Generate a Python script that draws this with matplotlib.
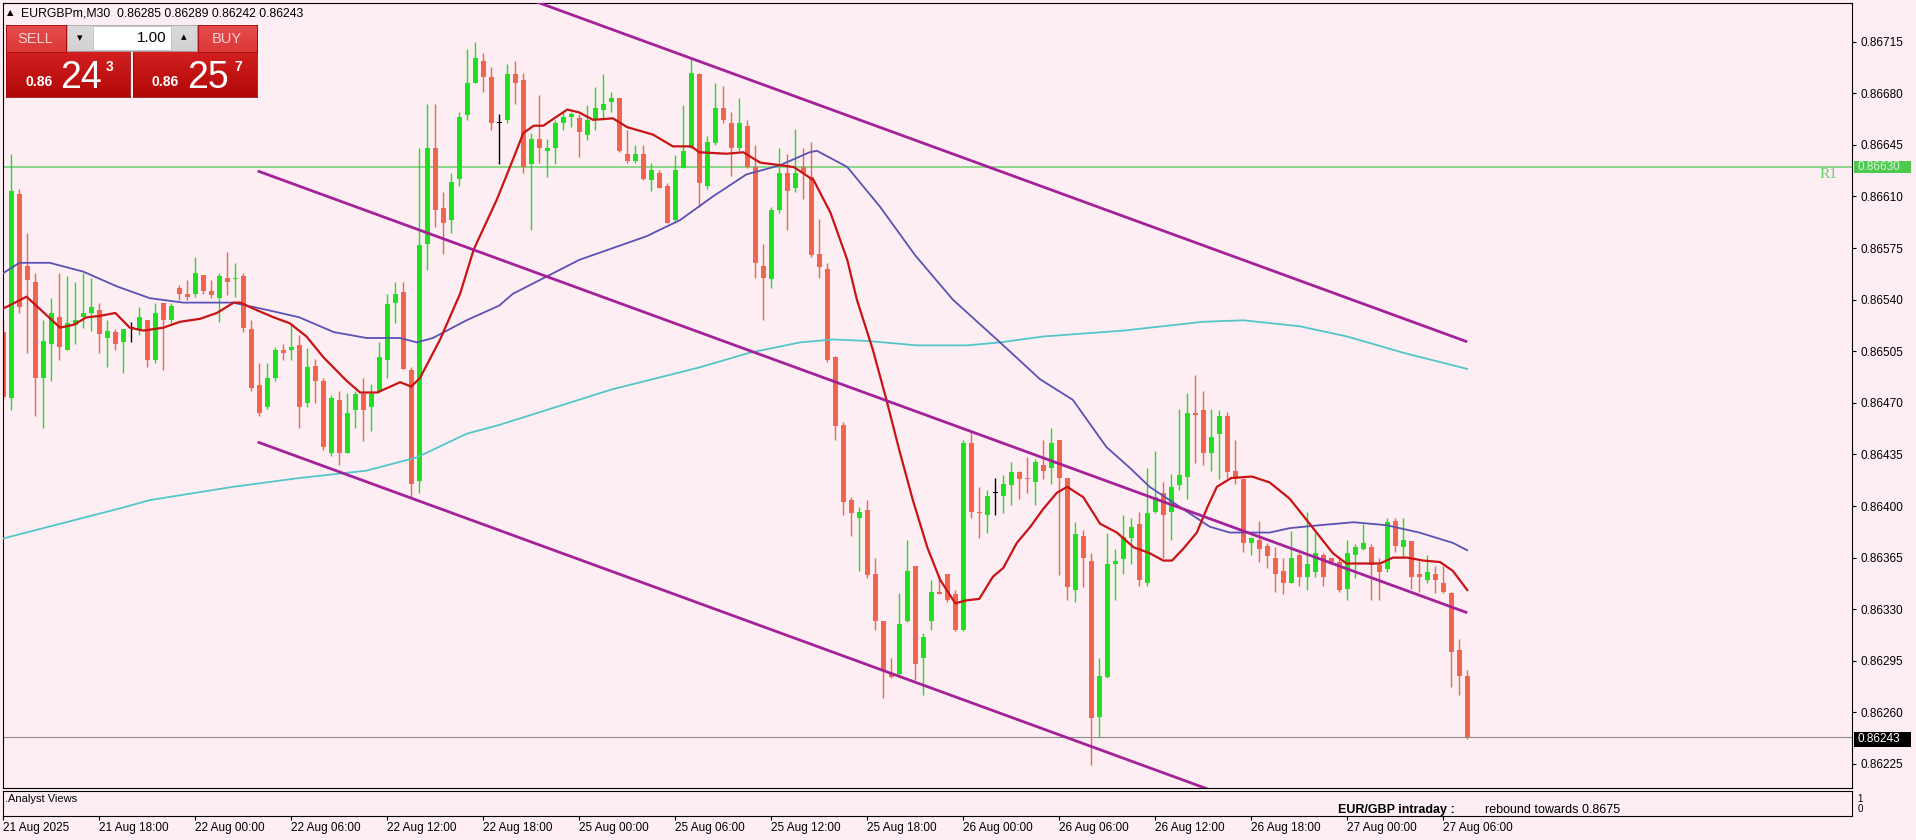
import numpy as np
import matplotlib
matplotlib.use('Agg')
import matplotlib.pyplot as plt
from matplotlib.patches import Rectangle

plt.rcParams['font.family'] = ['Liberation Sans', 'DejaVu Sans']

# EURGBPm M30 candles, bar 0 = 21 Aug 2025 12:00
opens = [0.86518, 0.86473, 0.86612, 0.86563, 0.86552, 0.86487, 0.86510, 0.86528, 0.86506, 0.86523,
         0.86528, 0.86531, 0.86533, 0.86514, 0.86518, 0.86511, 0.86521, 0.86520, 0.86526, 0.86499,
         0.86538, 0.86526, 0.86548, 0.86544, 0.86544, 0.86557, 0.86546, 0.86541, 0.86555, 0.86554,
         0.86556, 0.86520, 0.86482, 0.86467, 0.86487, 0.86506, 0.86506, 0.86509, 0.86470, 0.86495,
         0.86485, 0.86436, 0.86472, 0.86436, 0.86465, 0.86476, 0.86467, 0.86478, 0.86499, 0.86538,
         0.86545, 0.86492, 0.86417, 0.86578, 0.86643, 0.86602, 0.86594, 0.86622, 0.86665, 0.86687,
         0.86702, 0.86691, 0.86660, 0.86662, 0.86693, 0.86689, 0.86632, 0.86649, 0.86641, 0.86643,
         0.86660, 0.86664, 0.86663, 0.86652, 0.86662, 0.86669, 0.86674, 0.86677, 0.86639, 0.86634,
         0.86639, 0.86621, 0.86626, 0.86617, 0.86594, 0.86629, 0.86643, 0.86693, 0.86617, 0.86646,
         0.86670, 0.86660, 0.86643, 0.86658, 0.86630, 0.86563, 0.86554, 0.86601, 0.86626, 0.86616,
         0.86630, 0.86623, 0.86571, 0.86561, 0.86501, 0.86455, 0.86404, 0.86392, 0.86397, 0.86354,
         0.86322, 0.86286, 0.86286, 0.86322, 0.86359, 0.86297, 0.86322, 0.86342, 0.86354, 0.86340,
         0.86316, 0.86443, 0.86396, 0.86394, 0.86409, 0.86407, 0.86414, 0.86423, 0.86419, 0.86416,
         0.86428, 0.86426, 0.86445, 0.86419, 0.86343, 0.86380, 0.86363, 0.86257, 0.86284, 0.86361,
         0.86364, 0.86378, 0.86388, 0.86348, 0.86396, 0.86409, 0.86396, 0.86414, 0.86420, 0.86463,
         0.86465, 0.86436, 0.86449, 0.86461, 0.86424, 0.86418, 0.86375, 0.86377, 0.86373, 0.86365,
         0.86356, 0.86348, 0.86367, 0.86352, 0.86355, 0.86367, 0.86365, 0.86362, 0.86344, 0.86367,
         0.86371, 0.86372, 0.86360, 0.86357, 0.86390, 0.86372, 0.86376, 0.86354, 0.86350, 0.86354,
         0.86348, 0.86341, 0.86302, 0.86285]
highs = [0.86526, 0.86639, 0.86615, 0.86585, 0.86558, 0.86526, 0.86541, 0.86558, 0.86556, 0.86552,
         0.86558, 0.86555, 0.86538, 0.86526, 0.86520, 0.86520, 0.86525, 0.86535, 0.86526, 0.86538,
         0.86538, 0.86538, 0.86550, 0.86553, 0.86569, 0.86557, 0.86553, 0.86558, 0.86572, 0.86565,
         0.86558, 0.86526, 0.86497, 0.86497, 0.86508, 0.86510, 0.86524, 0.86516, 0.86507, 0.86500,
         0.86487, 0.86475, 0.86478, 0.86477, 0.86478, 0.86487, 0.86483, 0.86511, 0.86544, 0.86552,
         0.86552, 0.86494, 0.86643, 0.86673, 0.86673, 0.86613, 0.86626, 0.86667, 0.86710, 0.86715,
         0.86707, 0.86698, 0.86666, 0.86700, 0.86702, 0.86694, 0.86653, 0.86679, 0.86649, 0.86662,
         0.86667, 0.86667, 0.86666, 0.86672, 0.86684, 0.86693, 0.86681, 0.86677, 0.86655, 0.86645,
         0.86645, 0.86633, 0.86628, 0.86619, 0.86638, 0.86672, 0.86704, 0.86694, 0.86651, 0.86687,
         0.86685, 0.86667, 0.86677, 0.86662, 0.86645, 0.86578, 0.86603, 0.86643, 0.86639, 0.86656,
         0.86643, 0.86647, 0.86595, 0.86565, 0.86502, 0.86457, 0.86406, 0.86399, 0.86404, 0.86365,
         0.86322, 0.86297, 0.86341, 0.86377, 0.86359, 0.86314, 0.86350, 0.86353, 0.86354, 0.86343,
         0.86445, 0.86450, 0.86413, 0.86411, 0.86419, 0.86421, 0.86430, 0.86424, 0.86433, 0.86432,
         0.86445, 0.86453, 0.86445, 0.86419, 0.86389, 0.86384, 0.86368, 0.86297, 0.86382, 0.86371,
         0.86394, 0.86392, 0.86396, 0.86426, 0.86437, 0.86416, 0.86422, 0.86466, 0.86477, 0.86489,
         0.86478, 0.86466, 0.86465, 0.86464, 0.86445, 0.86419, 0.86379, 0.86390, 0.86375, 0.86372,
         0.86365, 0.86383, 0.86368, 0.86396, 0.86382, 0.86368, 0.86365, 0.86365, 0.86377, 0.86374,
         0.86388, 0.86374, 0.86365, 0.86392, 0.86392, 0.86392, 0.86376, 0.86363, 0.86367, 0.86359,
         0.86359, 0.86342, 0.86310, 0.86289]
lows = [0.86472, 0.86465, 0.86531, 0.86504, 0.86461, 0.86453, 0.86485, 0.86499, 0.86506, 0.86510,
        0.86521, 0.86519, 0.86504, 0.86494, 0.86506, 0.86490, 0.86511, 0.86516, 0.86494, 0.86497,
        0.86492, 0.86524, 0.86540, 0.86540, 0.86542, 0.86544, 0.86541, 0.86525, 0.86543, 0.86542,
        0.86518, 0.86478, 0.86461, 0.86466, 0.86485, 0.86499, 0.86499, 0.86453, 0.86467, 0.86470,
        0.86438, 0.86434, 0.86428, 0.86436, 0.86453, 0.86444, 0.86451, 0.86477, 0.86487, 0.86524,
        0.86493, 0.86406, 0.86409, 0.86560, 0.86589, 0.86571, 0.86585, 0.86617, 0.86662, 0.86687,
        0.86681, 0.86655, 0.86632, 0.86660, 0.86673, 0.86626, 0.86587, 0.86633, 0.86623, 0.86632,
        0.86655, 0.86657, 0.86637, 0.86648, 0.86655, 0.86662, 0.86667, 0.86640, 0.86633, 0.86633,
        0.86621, 0.86614, 0.86616, 0.86592, 0.86592, 0.86629, 0.86643, 0.86603, 0.86615, 0.86645,
        0.86660, 0.86624, 0.86641, 0.86629, 0.86555, 0.86526, 0.86548, 0.86599, 0.86587, 0.86613,
        0.86608, 0.86569, 0.86555, 0.86498, 0.86445, 0.86394, 0.86380, 0.86356, 0.86351, 0.86316,
        0.86270, 0.86283, 0.86285, 0.86321, 0.86282, 0.86272, 0.86316, 0.86340, 0.86335, 0.86315,
        0.86315, 0.86392, 0.86378, 0.86382, 0.86394, 0.86395, 0.86401, 0.86405, 0.86409, 0.86401,
        0.86418, 0.86415, 0.86353, 0.86336, 0.86335, 0.86345, 0.86224, 0.86243, 0.86283, 0.86336,
        0.86354, 0.86361, 0.86346, 0.86346, 0.86395, 0.86365, 0.86377, 0.86411, 0.86405, 0.86429,
        0.86428, 0.86424, 0.86418, 0.86419, 0.86415, 0.86369, 0.86367, 0.86362, 0.86358, 0.86342,
        0.86340, 0.86348, 0.86346, 0.86343, 0.86352, 0.86346, 0.86361, 0.86342, 0.86336, 0.86351,
        0.86370, 0.86336, 0.86336, 0.86355, 0.86369, 0.86365, 0.86344, 0.86342, 0.86348, 0.86341,
        0.86341, 0.86277, 0.86272, 0.86242]
closes = [0.86474, 0.86614, 0.86535, 0.86553, 0.86487, 0.86512, 0.86531, 0.86508, 0.86524, 0.86526,
          0.86531, 0.86535, 0.86517, 0.86519, 0.86510, 0.86520, 0.86521, 0.86528, 0.86499, 0.86531,
          0.86526, 0.86536, 0.86544, 0.86542, 0.86558, 0.86546, 0.86543, 0.86556, 0.86552, 0.86555,
          0.86521, 0.86480, 0.86463, 0.86487, 0.86506, 0.86504, 0.86508, 0.86467, 0.86494, 0.86485,
          0.86440, 0.86473, 0.86436, 0.86463, 0.86476, 0.86465, 0.86476, 0.86501, 0.86537, 0.86544,
          0.86493, 0.86415, 0.86577, 0.86643, 0.86601, 0.86592, 0.86620, 0.86664, 0.86687, 0.86704,
          0.86691, 0.86660, 0.86660, 0.86693, 0.86687, 0.86630, 0.86649, 0.86643, 0.86643, 0.86660,
          0.86664, 0.86666, 0.86654, 0.86662, 0.86670, 0.86673, 0.86677, 0.86641, 0.86634, 0.86639,
          0.86622, 0.86628, 0.86616, 0.86592, 0.86628, 0.86641, 0.86694, 0.86619, 0.86647, 0.86670,
          0.86662, 0.86643, 0.86660, 0.86630, 0.86565, 0.86555, 0.86601, 0.86626, 0.86614, 0.86626,
          0.86626, 0.86570, 0.86562, 0.86499, 0.86454, 0.86403, 0.86395, 0.86396, 0.86353, 0.86322,
          0.86288, 0.86284, 0.86320, 0.86356, 0.86293, 0.86311, 0.86342, 0.86340, 0.86336, 0.86316,
          0.86443, 0.86396, 0.86395, 0.86407, 0.86409, 0.86415, 0.86423, 0.86418, 0.86418, 0.86430,
          0.86424, 0.86443, 0.86419, 0.86345, 0.86381, 0.86365, 0.86256, 0.86285, 0.86361, 0.86363,
          0.86379, 0.86386, 0.86350, 0.86395, 0.86406, 0.86394, 0.86413, 0.86421, 0.86463, 0.86462,
          0.86436, 0.86447, 0.86461, 0.86423, 0.86418, 0.86375, 0.86378, 0.86371, 0.86366, 0.86354,
          0.86348, 0.86365, 0.86352, 0.86361, 0.86368, 0.86352, 0.86362, 0.86343, 0.86368, 0.86372,
          0.86375, 0.86360, 0.86355, 0.86389, 0.86373, 0.86377, 0.86352, 0.86352, 0.86355, 0.86350,
          0.86342, 0.86301, 0.86285, 0.86243]

# moving averages (bar position, price)
red_ma_x = [0, 2.9, 7.1, 8.8, 10.4, 12.1, 14, 15.8, 17.5, 20, 22.1, 24.6, 26.7, 28.8, 29.6, 31.2,
            33.8, 35.8, 37.9, 40, 42.9, 44.6, 46.7, 48.8, 49.6, 51, 52.1, 54.6, 57.1, 58.8, 61.7,
            63.7, 65, 66.3, 67.5, 70.5, 72, 73.7, 76.2, 78, 81.2, 83.7, 86, 87, 90.4, 92.5, 94.6,
            98.8, 101.3, 103.4, 105.5, 106.7, 108.7, 110.4, 112, 113.7, 115.5, 117.1, 119, 120.4,
            122, 123.7, 125, 126.7, 128.4, 130, 131.7, 133, 135, 137.1, 139.2, 141.3, 143.3, 145,
            146.1, 147.5, 149.2, 150.5, 151.7, 153.5, 156.1, 158.3, 160.8, 163, 164.6, 166.2,
            167.9, 170, 172.1, 173.7, 175.5, 177.5, 179.6, 181.2, 183]
red_ma = [0.86534, 0.86542, 0.86521, 0.86523, 0.86528, 0.86529, 0.86531, 0.86521, 0.86519, 0.86521,
          0.86525, 0.86527, 0.86531, 0.86538, 0.86538, 0.86534, 0.86528, 0.86524, 0.86515, 0.86501,
          0.86485, 0.86477, 0.86477, 0.86482, 0.86484, 0.86481, 0.86487, 0.86513, 0.86544, 0.86574,
          0.86608, 0.86635, 0.86653, 0.86658, 0.86658, 0.86669, 0.86667, 0.86662, 0.86663, 0.86657,
          0.86652, 0.86644, 0.86644, 0.86640, 0.86639, 0.86640, 0.86633, 0.86630, 0.86621, 0.86599,
          0.86567, 0.86540, 0.86506, 0.86472, 0.86438, 0.86404, 0.86372, 0.86350, 0.86334, 0.86336,
          0.86337, 0.86352, 0.86358, 0.86375, 0.86386, 0.86398, 0.86409, 0.86413, 0.86406, 0.86388,
          0.86382, 0.86372, 0.86368, 0.86363, 0.86363, 0.86371, 0.86382, 0.86399, 0.86413, 0.86419,
          0.86420, 0.86416, 0.86405, 0.86390, 0.86379, 0.86368, 0.86361, 0.86361, 0.86361, 0.86365,
          0.86365, 0.86363, 0.86362, 0.86356, 0.86343]
blue_ma_x = [0, 2, 5.8, 10, 14.2, 18.3, 22.5, 28.7, 33, 37, 41.3, 45.4, 49.6, 51.7, 53.7, 57.9, 62,
             63.7, 72, 80.4, 84.6, 88.7, 92.9, 97, 100.8, 101.7, 105.5, 109.6, 114, 118.7, 124.6,
             129.6, 133.7, 135.8, 137.9, 140.8, 143.3, 145.8, 148.3, 150.8, 153.3, 155, 158.3,
             160.8, 164.6, 168.8, 172.9, 177, 181.2, 183]
blue_ma = [0.86558, 0.86565, 0.86565, 0.86559, 0.86549, 0.86541, 0.86538, 0.86538, 0.86533, 0.86528,
           0.86518, 0.86514, 0.86514, 0.86511, 0.86514, 0.86526, 0.86536, 0.86544, 0.86567, 0.86583,
           0.86594, 0.86610, 0.86625, 0.86631, 0.86640, 0.86641, 0.86630, 0.86603, 0.86570, 0.86540,
           0.86511, 0.86486, 0.86472, 0.86456, 0.86440, 0.86426, 0.86413, 0.86404, 0.86395, 0.86386,
           0.86382, 0.86382, 0.86382, 0.86385, 0.86387, 0.86389, 0.86387, 0.86382, 0.86375, 0.86370]
cyan_ma_x = [0, 15, 18.3, 28.7, 37, 45.4, 51.7, 57.9, 62, 76, 87, 93.3, 99.6, 103.7, 108, 114.2,
             120.5, 124.6, 130, 140, 150, 155, 162, 168, 175, 183]
cyan_ma = [0.86378, 0.86399, 0.86404, 0.86413, 0.86419, 0.86424, 0.86433, 0.86449, 0.86455, 0.86479,
           0.86494, 0.86504, 0.86511, 0.86513, 0.86512, 0.86509, 0.86509, 0.86511, 0.86515, 0.86519,
           0.86525, 0.86526, 0.86522, 0.86515, 0.86504, 0.86493]

# regression channel end points
chan_x = [31.8, 183]
chan_upper = [0.868111, 0.865114]
chan_mid = [0.866273, 0.863276]
chan_lower = [0.864434, 0.861437]

r1_level = 0.86630
bid_price = 0.86243

y_ticks = [0.86225, 0.86260, 0.86295, 0.86330, 0.86365, 0.86400, 0.86435, 0.86470,
           0.86505, 0.86540, 0.86575, 0.86610, 0.86645, 0.86680, 0.86715]
x_tick_bars = [0, 12, 24, 36, 48, 60, 72, 84, 96, 108, 120, 132, 144, 156, 168, 180]
x_tick_labels = ['21 Aug 2025', '21 Aug 18:00', '22 Aug 00:00', '22 Aug 06:00', '22 Aug 12:00',
                 '22 Aug 18:00', '25 Aug 00:00', '25 Aug 06:00', '25 Aug 12:00', '25 Aug 18:00',
                 '26 Aug 00:00', '26 Aug 06:00', '26 Aug 12:00', '26 Aug 18:00', '27 Aug 00:00',
                 '27 Aug 06:00']

BG = '#fdeef3'
BULL = '#1fe01f'
BEAR = '#f1644f'

W, H = 1916, 840
fig = plt.figure(figsize=(W / 100, H / 100), dpi=100, facecolor=BG)


def fx(x):
    return x / W


def fy(y):
    return 1 - y / H


XL, XR = -0.08, 231.1

# main price chart
ax = fig.add_axes([fx(2.7), fy(788), fx(1852) - fx(2.7), fy(2.7) - fy(788)], facecolor=BG)
o = np.array(opens); h = np.array(highs); l = np.array(lows); c = np.array(closes)
idx = np.arange(len(c))
cols = np.where(c > o, BULL, np.where(c < o, BEAR, 'black'))
ax.vlines(idx, l, h, colors=cols, lw=1.0, zorder=2)
ax.bar(idx, np.maximum(np.abs(c - o), 0.000007), width=0.625, bottom=np.minimum(o, c),
       color=cols, linewidth=0, zorder=2)

ax.axhline(r1_level, color='#6ccf6c', lw=1.1, zorder=1)
ax.axhline(bid_price, color='#8c8c8c', lw=0.8, zorder=1)
ax.text(229.3, r1_level - 0.000005, 'R1', color='#6ccf6c', fontsize=11, ha='right', va='top',
        family='Liberation Serif')

ax.plot(cyan_ma_x, cyan_ma, color='#52c6c8', lw=1.3, zorder=3)
ax.plot(blue_ma_x, blue_ma, color='#5a52b4', lw=1.3, zorder=3)
ax.plot(red_ma_x, red_ma, color='#c81414', lw=1.6, zorder=3)
for band in (chan_upper, chan_mid, chan_lower):
    ax.plot(chan_x, band, color='#a3229a', lw=2.0, zorder=4, solid_capstyle='butt')

ax.set_xlim(XL, XR)
ax.set_ylim(0.862087, 0.8674146)
ax.set_xticks([])
ax.yaxis.tick_right()
ax.set_yticks(y_ticks)
ax.set_yticklabels(['%.5f' % v for v in y_ticks])
ax.tick_params(axis='y', direction='out', length=3, width=0.8, pad=3, labelsize=8.5)
for s in ax.spines.values():
    s.set_color('black')
    s.set_linewidth(0.8)

# price tags on the axis
fig.add_artist(Rectangle((fx(1854), fy(173)), 57 / W, 12 / H, transform=fig.transFigure,
                         facecolor='#4ec94e', edgecolor='none'))
fig.text(fx(1857), fy(167), '0.86630', color='#d8f7d8', fontsize=8.5, va='center')
fig.add_artist(Rectangle((fx(1854), fy(747)), 57 / W, 15 / H, transform=fig.transFigure,
                         facecolor='black', edgecolor='none'))
fig.text(fx(1857), fy(739.5), '0.86243', color='white', fontsize=8.5, va='center')

# indicator sub-window
ax2 = fig.add_axes([fx(2.7), fy(816), fx(1852) - fx(2.7), fy(791) - fy(816)], facecolor=BG)
ax2.set_xlim(XL, XR)
ax2.set_ylim(-0.8, 1.7)
ax2.set_xticks(x_tick_bars)
ax2.set_xticklabels(x_tick_labels)
for lbl in ax2.get_xticklabels():
    lbl.set_ha('left')
ax2.tick_params(axis='x', direction='out', length=3, width=0.8, pad=1.5, labelsize=8.5)
ax2.yaxis.tick_right()
ax2.set_yticks([0, 1])
ax2.set_yticklabels(['0', '1'])
ax2.tick_params(axis='y', length=0, pad=4, labelsize=7)
for s in ax2.spines.values():
    s.set_color('black')
    s.set_linewidth(0.8)
fig.text(fx(5), fy(799), '.Analyst Views', fontsize=8, va='center')
fig.text(fx(1338), fy(810), 'EUR/GBP intraday :', fontsize=9, weight='bold', va='center')
fig.text(fx(1485), fy(810), 'rebound towards 0.8675', fontsize=9, va='center')

# one-click trading panel
fig.text(fx(7), fy(13), '\u25b2', fontsize=6, va='center', family='DejaVu Sans')
fig.text(fx(21), fy(13), 'EURGBPm,M30  0.86285 0.86289 0.86242 0.86243', fontsize=8.8,
         va='center')


def red_box(x0, y0, x1, y1, top, bot):
    a = fig.add_axes([fx(x0), fy(y1), (x1 - x0) / W, (y1 - y0) / H])
    t = np.linspace(0, 1, 64)[:, None, None]
    img = np.array(top)[None, None, :] * (1 - t) + np.array(bot)[None, None, :] * t
    a.imshow(img, aspect='auto', extent=(0, 1, 0, 1))
    a.set_xticks([]); a.set_yticks([])
    for s in a.spines.values():
        s.set_color('#9a0a0a')
        s.set_linewidth(0.6)
    return a


red_box(6, 25, 130, 97, (0.90, 0.18, 0.18), (0.70, 0.03, 0.03))
red_box(133, 25, 257, 97, (0.90, 0.18, 0.18), (0.70, 0.03, 0.03))
red_box(6, 25, 66, 52, (0.90, 0.30, 0.30), (0.86, 0.22, 0.22))
red_box(198, 25, 257, 52, (0.90, 0.30, 0.30), (0.86, 0.22, 0.22))
lot = red_box(67, 25, 197, 51, (0.86, 0.86, 0.86), (0.82, 0.82, 0.82))
for s in lot.spines.values():
    s.set_color('#a8a8a8')
fig.add_artist(Rectangle((fx(93), fy(50)), 78 / W, 24 / H, transform=fig.transFigure,
                         facecolor='white', edgecolor='#c0c0c0', lw=0.6))
fig.text(fx(80), fy(38), '\u25be', fontsize=8, ha='center', va='center', family='DejaVu Sans')
fig.text(fx(184), fy(37), '\u25b4', fontsize=8, ha='center', va='center', family='DejaVu Sans')
fig.text(fx(166), fy(38), '1.00', fontsize=11, ha='right', va='center')
fig.text(fx(35), fy(39), 'SELL', fontsize=10.5, ha='center', va='center', color='#fbd2d2')
fig.text(fx(227), fy(39), 'BUY', fontsize=10.5, ha='center', va='center', color='#fbd2d2')

fig.text(fx(25), fy(82), '0.86', fontsize=10, weight='bold', color='white', va='center')
fig.text(fx(60), fy(88), '24', fontsize=27, color='white', va='baseline')
fig.text(fx(106), fy(67), '3', fontsize=10, weight='bold', color='white', va='center')
fig.text(fx(151), fy(82), '0.86', fontsize=10, weight='bold', color='white', va='center')
fig.text(fx(187), fy(88), '25', fontsize=27, color='white', va='baseline')
fig.text(fx(234), fy(67), '7', fontsize=10, weight='bold', color='white', va='center')

fig.savefig('out.png', dpi=100, facecolor=BG)
